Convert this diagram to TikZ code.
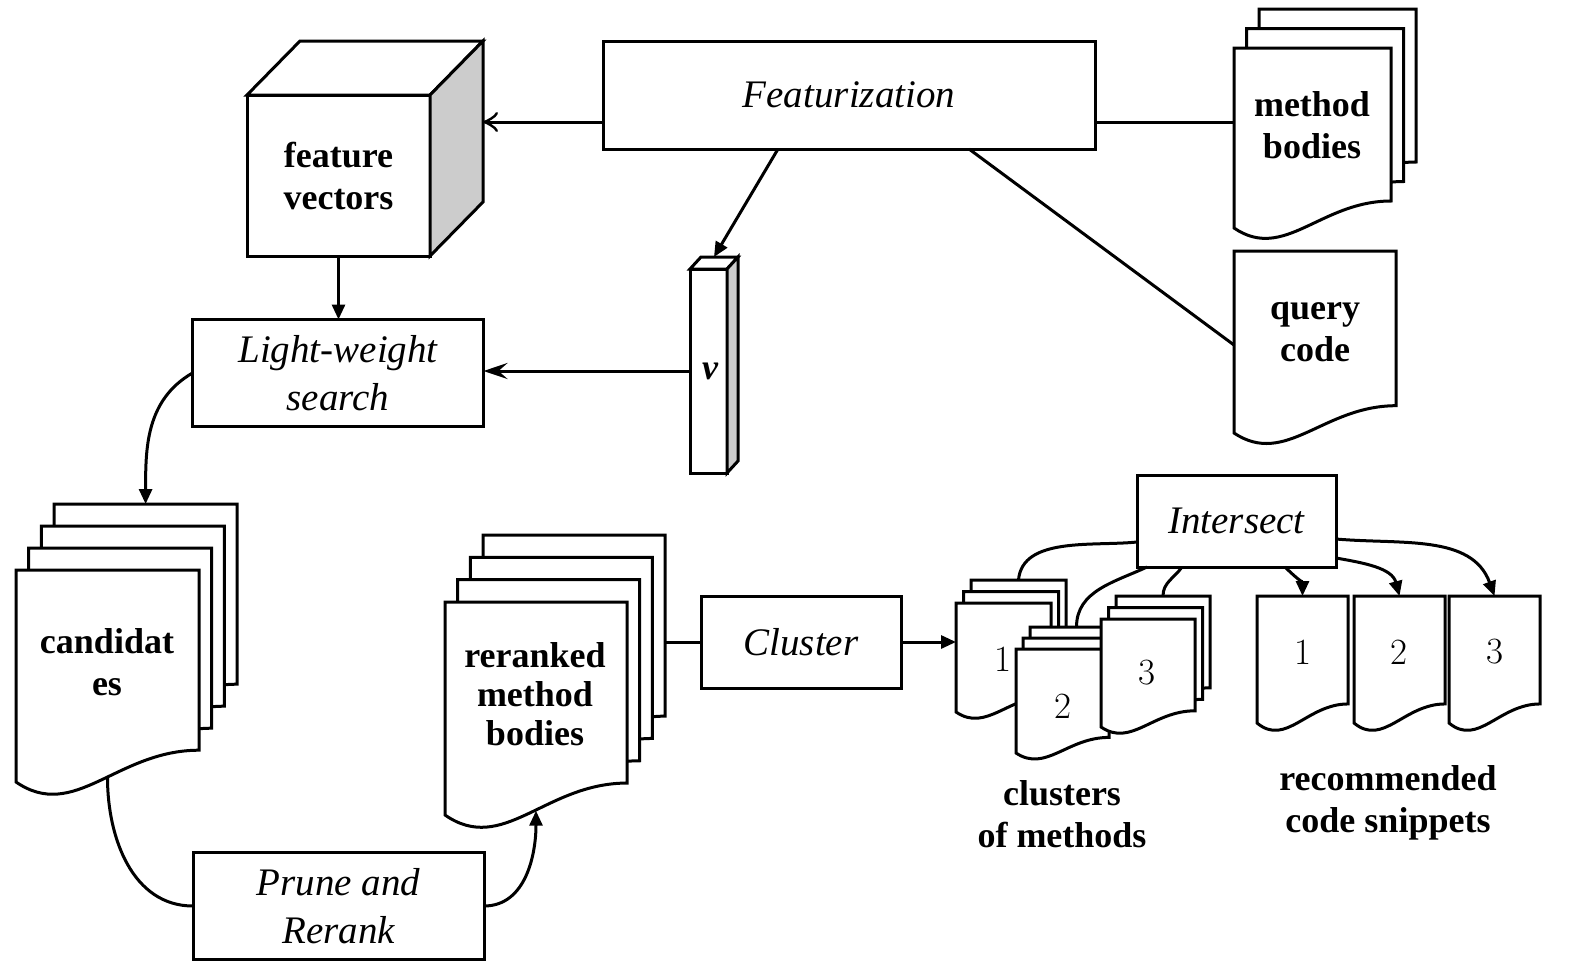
\documentclass[tikz,border=0pt]{standalone}
\usepackage{fontspec}
\newfontfamily\lib{Liberation Serif}
\usetikzlibrary{arrows.meta,calc}
\definecolor{shade}{RGB}{204,204,204}
\newcommand\rsIt{\lib\itshape\fontsize{39}{48}\selectfont}
\newcommand\rsBf{\lib\bfseries\fontsize{36}{42}\selectfont}
\newcommand\rsNum{\fontsize{37}{40}\selectfont}
\newcommand\rsdoc[5]{%
 \pgfmathsetmacro\rsX{#2}%
 \pgfmathsetmacro\rsY{#3}%
 \pgfmathsetmacro\rsXa{#2+#4}%
 \pgfmathsetmacro\rsYa{#3+0.85*#5}%
 \pgfmathsetmacro\rsCxa{#2+0.55*#4}%
 \pgfmathsetmacro\rsCxb{#2+0.32*#4}%
 \pgfmathsetmacro\rsCyb{#3+1.19*#5}%
 \pgfmathsetmacro\rsYb{#3+#5}%
 \pgfmathsetmacro\rsMx{#2+0.5*#4}%
 \pgfmathsetmacro\rsMy{#3+0.98*#5}%
 \draw[docline] (\rsX,\rsY) -- (\rsXa,\rsY) -- (\rsXa,\rsYa) .. controls (\rsCxa,\rsYa) and (\rsCxb,\rsCyb) .. (\rsX,\rsYb) -- cycle;
 \node[inner sep=0pt,outer sep=0pt,minimum width=#4pt,minimum height=#5pt,anchor=north west] (#1) at (\rsX,\rsY) {};
 \coordinate (#1-b) at (\rsMx,\rsMy);
}
\newcommand\rsstack[8]{%
 \foreach \k in {#8,...,1}{%
  \pgfmathsetmacro\rsLx{#2+(\k-1)*#6}%
  \pgfmathsetmacro\rsLy{#3+(\k-1)*(#7)}%
  \rsdoc{#1\k}{\rsLx}{\rsLy}{#4}{#5}%
 }%
}
\tikzset{
 lw/.style={line width=3pt},
 box/.style={draw, lw, fill=white, inner sep=0pt, outer sep=0pt, font=\rsIt, align=center},
 docline/.style={draw, lw, fill=white, line join=miter},
 bt/.style={font=\rsBf, align=center, inner sep=0pt},
 num/.style={font=\rsNum, inner sep=0pt},
 conn/.style={lw},
 arr/.style={lw, -{Triangle[length=15pt,width=13pt]}},
 sarr/.style={lw, -{Stealth[length=24pt,width=16pt,inset=9pt]}},
 oarr/.style={lw, -{Classical TikZ Rightarrow[length=15pt,width=20pt]}},
}
\begin{document}
\begin{tikzpicture}[x=1pt,y=-1pt]
\useasboundingbox (0,0) rectangle (1580,980);
\fill[white] (0,0) rectangle (1580,980);

% Featurization
\node[box, minimum width=492pt, minimum height=108pt] (feat) at (849,95) {\raisebox{-2pt}{Featurization}};

% cube
\node[box, font=\rsBf, minimum width=183pt, minimum height=161pt] (cube) at (338.5,175.5) {feature\\vectors};
\draw[docline] (cube.north west) -- ++(53,-54) -- ++(183,0) -- (cube.north east) -- cycle;
\draw[docline, fill=shade] (cube.north east) -- ++(53,-54) -- ++(0,161) -- (cube.south east) -- cycle;
\coordinate (cubeR) at ($(cube.east)+(53,0)$);

% method bodies, query code
\rsstack{mb}{1234}{48}{157}{180}{12.5}{-19.5}{3}
\node[bt] (tmb) at (1312,125) {method\\bodies};
\rsdoc{qc}{1234}{251}{162}{182}
\node[bt] (tqc) at (1315,332) {query\\code};

% vector v
\node[box, minimum width=37pt, minimum height=204pt, font=\lib\bfseries\itshape\fontsize{36}{40}\selectfont] (v) at (708.5,371) {\raisebox{-5pt}{\hspace{3pt}v}};
\draw[docline] (v.north west) -- ++(11,-12) -- ++(37,0) -- (v.north east) -- cycle;
\draw[docline, fill=shade] (v.north east) -- ++(11,-12) -- ++(0,204) -- (v.south east) -- cycle;
\coordinate (vtop) at ($(v.north)+(5.5,-12)$);

% search
\node[box, minimum width=291pt, minimum height=107pt] (search) at (338,373) {Light-weight\\search};

% candidates
\rsstack{cand}{16}{570}{183}{212}{12.7}{-22}{4}
\node[bt] (tcand) at (107,662) {candidat\\es};

% prune
\node[box, minimum width=291pt, minimum height=107pt] (prune) at (338.5,906) {Prune and\\Rerank};

% reranked
\rsstack{rr}{445}{602}{182}{213}{12.7}{-22.3}{4}
\node[bt, font=\lib\bfseries\fontsize{36}{39}\selectfont] (trr) at (535,694) {reranked\\method\\bodies};

% cluster
\node[box, minimum width=200pt, minimum height=92pt] (clus) at (801,642) {Cluster};

% clusters of methods
\rsstack{cla}{956}{603}{95}{109}{7.5}{-11.5}{3}
\node[num] (n1) at (1003,659) {1};
\rsstack{clb}{1016}{649}{93}{104}{7}{-11}{3}
\node[num] (n2) at (1063,706) {2};
\rsstack{clc}{1101}{619}{94}{108}{7.5}{-11.5}{3}
\node[num] (n3) at (1147,673) {3};

% intersect
\node[box, minimum width=199pt, minimum height=92pt] (isect) at (1236.5,521) {Intersect};

% snippets
\rsdoc{sa}{1257}{596}{91}{127}
\node[num] (m1) at (1303,652) {1};
\rsdoc{sb}{1354}{596}{91}{127}
\node[num] (m2) at (1399,652) {2};
\rsdoc{sc}{1449}{596}{91}{127}
\node[num] (m3) at (1495,652) {3};

% labels
\node[bt] (lcl) at (1062,814) {clusters\\of methods};
\node[bt] (lrs) at (1388,803) {recommended\\code snippets};

% connectors
\coordinate (featL) at ($(feat.west)+(0,27)$);
\coordinate (featR) at ($(feat.east)+(0,27)$);
\draw[oarr] (featL) -- (featL -| cubeR);
\draw[conn] (featR) -- (featR -| mb1.west);
\draw[conn] ($(feat.south west)+(366,0)$) -- ($(qc.west)+(0,3)$);
\draw[arr] ($(feat.south west)+(175,0)$) -- (vtop);
\draw[sarr] (v.west) -- (v.west -| search.east);
\draw[arr] (cube.south) -- (cube.south |- search.north);
\draw[arr] (search.west) to[out=210,in=90] (cand4.north);
\draw[conn] (cand1-b) to[out=-90,in=180] (prune.west);
\draw[arr] (prune.east) to[out=0,in=-90] (rr1-b);
\draw[conn] (clus.west -| rr4.east) -- (clus.west);
\draw[arr] (clus.east) -- (clus.east -| cla1.west);
\draw[conn] ($(isect.west)+(0,21)$) to[out=186,in=85,looseness=0.9] (cla3.north);
\draw[conn] ($(isect.south west)+(10,0)$) to[out=205,in=90] (clb3.north);
\draw[conn] ($(isect.south west)+(45,0)$) to[out=235,in=90] (clc3.north);
\draw[arr] ($(isect.south west)+(148,0)$) to[out=-45,in=90] (sa.north);
\draw[arr] ($(isect.south east)+(0,-9)$) to[out=-10,in=105] (sb.north);
\draw[arr] ($(isect.east)+(0,18)$) to[out=-5,in=110] (sc.north);
\end{tikzpicture}
\end{document}
